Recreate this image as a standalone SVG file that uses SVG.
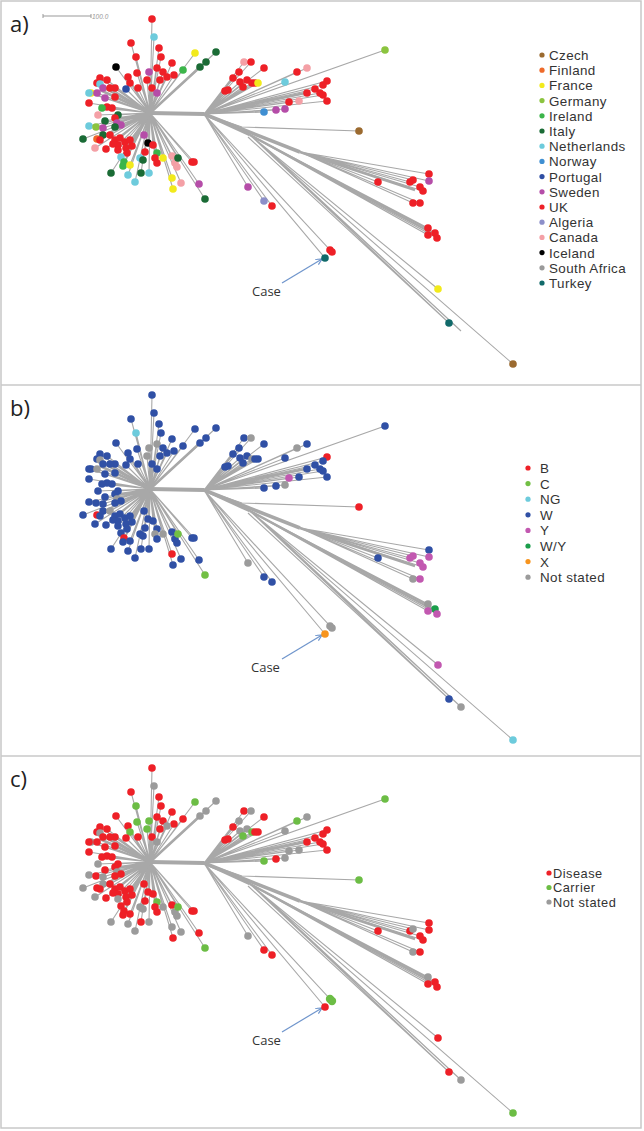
<svg xmlns="http://www.w3.org/2000/svg" xmlns:xlink="http://www.w3.org/1999/xlink" width="644" height="1131" viewBox="0 0 644 1131">
<style>
.lab{font-family:"Open Sans","Liberation Sans",sans-serif;font-size:22px;fill:#222}
.leg{font-family:"Liberation Sans",Arial,sans-serif;font-size:13.4px;letter-spacing:0.4px;fill:#333}
.legc{font-family:"Liberation Sans",Arial,sans-serif;font-size:12.8px;letter-spacing:0.5px;fill:#333}
.case{font-family:"Open Sans","Liberation Sans",sans-serif;font-size:13px;fill:#333}
.cz{fill:#9b6a2f}.fi{fill:#ee6a2a}.fr{fill:#f2ea1c}.de{fill:#8bc43f}.ie{fill:#3cb54a}.it{fill:#1a6b35}
.nl{fill:#6dcbdc}.no{fill:#3f8fd2}.pt{fill:#2e4ea3}.se{fill:#b54da8}.uk{fill:#ee2027}.dz{fill:#8c8fc9}
.ca{fill:#f4a0a6}.is{fill:#000}.za{fill:#9a9a9a}.tr{fill:#116a6a}
.bB{fill:#ee2027}.bC{fill:#72bf44}.bNG{fill:#6dcbdc}.bW{fill:#3050a5}.bY{fill:#c258b0}.bWY{fill:#1b9e4b}.bX{fill:#f7941d}
.ns{fill:#9b9b9b}.dis{fill:#ee2027}.car{fill:#6cbd45}
.arrow{stroke:#6f95cc;stroke-width:1.2;fill:none}
</style>
<defs>
<marker id="ah" markerWidth="8" markerHeight="8" refX="6" refY="3" orient="auto" markerUnits="userSpaceOnUse">
<path d="M0,0 L6,3 L0,6" fill="none" stroke="#6f95cc" stroke-width="1.2"/>
</marker>
<g id="tree" fill="none" stroke="#a8a8a8" stroke-width="1.1">
<path d="M150 113L152 19M150 113L154 37M150 113L131 43M150 113L159 48M150 113L136 57M150 113L161 57M150 113L195 53M150 113L216 52M150 113L206 62M150 113L200 67M150 113L183 70M150 113L116 67M150 113L157 68M150 113L163 72M150 113L172 63M150 113L174 75M150 113L167 77M150 113L160 80M150 113L147 80M150 113L137 73M150 113L128 77M150 113L130 83M150 113L138 88M150 113L152 88M150 113L149 72M150 113L157 93M150 113L126 89M150 113L115 88M150 113L115 97M150 113L100 78M150 113L107 80M150 113L97 83M150 113L100 84M150 113L103 88M150 113L110 88M150 113L91 93M150 113L89 93M150 113L97 93M150 113L105 98M150 113L89 103M150 113L107 107M150 113L112 108M150 113L102 108M150 113L98 115M150 113L118 115M150 113L115 118M150 113L105 121M150 113L117 123M150 113L121 125M150 113L89 126M150 113L96 127M150 113L103 128M150 113L115 127M150 113L83 139M150 113L97 139M150 113L103 135M150 113L100 140M150 113L110 135M150 113L115 140M150 113L120 138M150 113L125 142M150 113L130 140M150 113L118 145M150 113L126 148M150 113L132 146M150 113L113 144M150 113L95 148M150 113L106 149M150 113L144 135M150 113L148 143M150 113L153 145M150 113L118 150M150 113L127 153M150 113L121 157M150 113L124 162M150 113L123 166M150 113L130 165M150 113L140 158M150 113L143 160M150 113L145 152M150 113L157 153M150 113L155 158M150 113L157 163M150 113L163 158M150 113L111 173M150 113L128 175M150 113L141 173M150 113L149 173M150 113L135 182M150 113L172 156M150 113L175 163M150 113L177 167M150 113L178 158M150 113L192 162M150 113L194 162M150 113L172 178M150 113L181 183M150 113L173 189M150 113L199 184M150 113L205 199"/>
<path d="M204 114L244 62M204 114L251 62M204 114L264 68M204 114L239 72M204 114L233 78M204 114L240 82M204 114L247 80M204 114L252 83M204 114L243 87M204 114L228 90M204 114L225 91M204 114L255 83M204 114L258 83M204 114L297 72M204 114L307 68M204 114L285 82M204 114L385 50M204 114L327 81M204 114L323 85M204 114L315 89M204 114L307 93M204 114L320 93M204 114L323 95M204 114L289 102M204 114L299 101M204 114L327 101M204 114L264 112M204 114L276 110M204 114L285 109M204 114L242 127L359 131M204 114L248 187M204 114L264 201M204 114L272 206M204 114L332 252M206 116L325 258M205 115L330 250"/>
<path d="M300 152L429 174M300 152L429 181M300 152L378 182M300 152L410 182M300 152L413 180M300 152L420 187M300 152L423 191M300 152L413 203M300 152L420 203M250 135L428 228M250 135L435 233M250 135L428 235M250 135L437 238M250 135L438 289M250 135L449 323M250 135L461 331M250 135L513 364M248 137L449 323M252 136L461 331"/>
<path stroke-width="4" d="M150 113L204 114"/>
<path stroke-width="2.5" d="M150 113L200 67M150 113L130 145M150 113L100 90"/>
<path stroke-width="3.5" d="M204 114L300 152"/>
<path stroke-width="3" d="M204 114L250 135"/>
<path stroke-width="2.5" d="M300 152L415 190M250 135L432 233M204 114L310 92"/>
</g>
</defs>

<g id="frame" fill="none" stroke="#c8c8c8" stroke-width="1.5">
<rect x="1" y="1" width="640" height="1127"/>
<line x1="1" y1="385" x2="641" y2="385"/>
<line x1="1" y1="756" x2="641" y2="756"/>
</g>

<g id="connectors">
<use xlink:href="#tree" href="#tree"/>
<use xlink:href="#tree" href="#tree" transform="translate(0,376)"/>
<use xlink:href="#tree" href="#tree" transform="translate(0,749)"/>
<line class="arrow" x1="282" y1="283" x2="322" y2="259" marker-end="url(#ah)"/>
<line class="arrow" x1="282" y1="659" x2="322" y2="635" marker-end="url(#ah)"/>
<line class="arrow" x1="282" y1="1032" x2="322" y2="1008" marker-end="url(#ah)"/>
</g>

<g id="panel-a">
<text class="lab" x="10" y="32">a)</text>
<g id="scalebar" stroke="#999" stroke-width="1">
<line x1="43" y1="16" x2="91" y2="16"/><line x1="43" y1="14" x2="43" y2="18"/><line x1="91" y1="14" x2="91" y2="18"/>
</g>
<text x="92" y="18.5" font-family="Liberation Sans,sans-serif" font-size="6.5" font-style="italic" fill="#999">100.0</text>
<g id="dots-a">
<circle cx="152" cy="19" r="3.8" class="uk"/><circle cx="154" cy="37" r="3.8" class="nl"/><circle cx="131" cy="43" r="3.8" class="uk"/><circle cx="159" cy="48" r="3.8" class="uk"/><circle cx="136" cy="57" r="3.8" class="uk"/><circle cx="161" cy="57" r="3.8" class="uk"/><circle cx="195" cy="53" r="3.8" class="fr"/><circle cx="216" cy="52" r="3.8" class="it"/><circle cx="206" cy="62" r="3.8" class="it"/><circle cx="200" cy="67" r="3.8" class="it"/><circle cx="183" cy="70" r="3.8" class="ie"/><circle cx="116" cy="67" r="3.8" class="is"/><circle cx="157" cy="68" r="3.8" class="uk"/><circle cx="163" cy="72" r="3.8" class="uk"/><circle cx="172" cy="63" r="3.8" class="uk"/><circle cx="174" cy="75" r="3.8" class="uk"/><circle cx="167" cy="77" r="3.8" class="uk"/><circle cx="160" cy="80" r="3.8" class="uk"/><circle cx="147" cy="80" r="3.8" class="uk"/><circle cx="137" cy="73" r="3.8" class="uk"/><circle cx="128" cy="77" r="3.8" class="uk"/><circle cx="130" cy="83" r="3.8" class="uk"/><circle cx="138" cy="88" r="3.8" class="uk"/><circle cx="152" cy="88" r="3.8" class="uk"/><circle cx="149" cy="72" r="3.8" class="se"/><circle cx="157" cy="93" r="3.8" class="se"/><circle cx="126" cy="89" r="3.8" class="pt"/><circle cx="115" cy="88" r="3.8" class="uk"/><circle cx="115" cy="97" r="3.8" class="uk"/><circle cx="100" cy="78" r="3.8" class="uk"/><circle cx="107" cy="80" r="3.8" class="uk"/><circle cx="97" cy="83" r="3.8" class="uk"/><circle cx="100" cy="84" r="3.8" class="nl"/><circle cx="103" cy="88" r="3.8" class="se"/><circle cx="110" cy="88" r="3.8" class="uk"/><circle cx="91" cy="93" r="3.8" class="fr"/><circle cx="89" cy="93" r="3.8" class="nl"/><circle cx="97" cy="93" r="3.8" class="se"/><circle cx="105" cy="98" r="3.8" class="se"/><circle cx="89" cy="103" r="3.8" class="uk"/><circle cx="107" cy="107" r="3.8" class="uk"/><circle cx="112" cy="108" r="3.8" class="uk"/><circle cx="102" cy="108" r="3.8" class="ie"/><circle cx="98" cy="115" r="3.8" class="ca"/><circle cx="118" cy="115" r="3.8" class="it"/><circle cx="115" cy="118" r="3.8" class="uk"/><circle cx="105" cy="121" r="3.8" class="it"/><circle cx="117" cy="123" r="3.8" class="se"/><circle cx="121" cy="125" r="3.8" class="se"/><circle cx="89" cy="126" r="3.8" class="nl"/><circle cx="96" cy="127" r="3.8" class="de"/><circle cx="103" cy="128" r="3.8" class="se"/><circle cx="115" cy="127" r="3.8" class="it"/><circle cx="83" cy="139" r="3.8" class="it"/><circle cx="97" cy="139" r="3.8" class="fi"/><circle cx="103" cy="135" r="3.8" class="it"/><circle cx="100" cy="140" r="3.8" class="uk"/><circle cx="110" cy="135" r="3.8" class="uk"/><circle cx="115" cy="140" r="3.8" class="uk"/><circle cx="120" cy="138" r="3.8" class="uk"/><circle cx="125" cy="142" r="3.8" class="uk"/><circle cx="130" cy="140" r="3.8" class="uk"/><circle cx="118" cy="145" r="3.8" class="uk"/><circle cx="126" cy="148" r="3.8" class="uk"/><circle cx="132" cy="146" r="3.8" class="uk"/><circle cx="113" cy="144" r="3.8" class="uk"/><circle cx="95" cy="148" r="3.8" class="ca"/><circle cx="106" cy="149" r="3.8" class="uk"/><circle cx="144" cy="135" r="3.8" class="se"/><circle cx="148" cy="143" r="3.8" class="is"/><circle cx="153" cy="145" r="3.8" class="uk"/><circle cx="118" cy="150" r="3.8" class="uk"/><circle cx="127" cy="153" r="3.8" class="uk"/><circle cx="121" cy="157" r="3.8" class="nl"/><circle cx="124" cy="162" r="3.8" class="ie"/><circle cx="123" cy="166" r="3.8" class="ie"/><circle cx="130" cy="165" r="3.8" class="fr"/><circle cx="140" cy="158" r="3.8" class="nl"/><circle cx="143" cy="160" r="3.8" class="it"/><circle cx="145" cy="152" r="3.8" class="uk"/><circle cx="157" cy="153" r="3.8" class="ie"/><circle cx="155" cy="158" r="3.8" class="uk"/><circle cx="157" cy="163" r="3.8" class="uk"/><circle cx="163" cy="158" r="3.8" class="fr"/><circle cx="111" cy="173" r="3.8" class="it"/><circle cx="128" cy="175" r="3.8" class="nl"/><circle cx="141" cy="173" r="3.8" class="it"/><circle cx="149" cy="173" r="3.8" class="nl"/><circle cx="135" cy="182" r="3.8" class="nl"/><circle cx="172" cy="156" r="3.8" class="ca"/><circle cx="175" cy="163" r="3.8" class="ca"/><circle cx="177" cy="167" r="3.8" class="ca"/><circle cx="178" cy="158" r="3.8" class="it"/><circle cx="192" cy="162" r="3.8" class="uk"/><circle cx="194" cy="162" r="3.8" class="uk"/><circle cx="172" cy="178" r="3.8" class="fr"/><circle cx="181" cy="183" r="3.8" class="ca"/><circle cx="173" cy="189" r="3.8" class="fr"/><circle cx="199" cy="184" r="3.8" class="se"/><circle cx="205" cy="199" r="3.8" class="it"/>
<circle cx="244" cy="62" r="3.8" class="ca"/><circle cx="251" cy="62" r="3.8" class="uk"/><circle cx="264" cy="68" r="3.8" class="uk"/><circle cx="239" cy="72" r="3.8" class="uk"/><circle cx="233" cy="78" r="3.8" class="uk"/><circle cx="240" cy="82" r="3.8" class="uk"/><circle cx="247" cy="80" r="3.8" class="uk"/><circle cx="252" cy="83" r="3.8" class="uk"/><circle cx="243" cy="87" r="3.8" class="uk"/><circle cx="228" cy="90" r="3.8" class="uk"/><circle cx="225" cy="91" r="3.8" class="uk"/><circle cx="255" cy="83" r="3.8" class="uk"/><circle cx="258" cy="83" r="3.8" class="fr"/><circle cx="297" cy="72" r="3.8" class="uk"/><circle cx="307" cy="68" r="3.8" class="ca"/><circle cx="285" cy="82" r="3.8" class="nl"/><circle cx="385" cy="50" r="3.8" class="de"/><circle cx="327" cy="81" r="3.8" class="uk"/><circle cx="323" cy="85" r="3.8" class="uk"/><circle cx="315" cy="89" r="3.8" class="uk"/><circle cx="307" cy="93" r="3.8" class="uk"/><circle cx="320" cy="93" r="3.8" class="uk"/><circle cx="323" cy="95" r="3.8" class="uk"/><circle cx="289" cy="102" r="3.8" class="uk"/><circle cx="299" cy="101" r="3.8" class="ca"/><circle cx="327" cy="101" r="3.8" class="uk"/><circle cx="264" cy="112" r="3.8" class="no"/><circle cx="276" cy="110" r="3.8" class="se"/><circle cx="285" cy="109" r="3.8" class="se"/><circle cx="359" cy="131" r="3.8" class="cz"/><circle cx="429" cy="174" r="3.8" class="uk"/><circle cx="429" cy="181" r="3.8" class="se"/><circle cx="378" cy="182" r="3.8" class="uk"/><circle cx="410" cy="182" r="3.8" class="uk"/><circle cx="413" cy="180" r="3.8" class="uk"/><circle cx="420" cy="187" r="3.8" class="uk"/><circle cx="423" cy="191" r="3.8" class="uk"/><circle cx="413" cy="203" r="3.8" class="uk"/><circle cx="420" cy="203" r="3.8" class="uk"/><circle cx="248" cy="187" r="3.8" class="se"/><circle cx="264" cy="201" r="3.8" class="dz"/><circle cx="272" cy="206" r="3.8" class="uk"/><circle cx="428" cy="228" r="3.8" class="uk"/><circle cx="435" cy="233" r="3.8" class="uk"/><circle cx="428" cy="235" r="3.8" class="uk"/><circle cx="437" cy="238" r="3.8" class="uk"/><circle cx="330" cy="250" r="3.8" class="uk"/><circle cx="332" cy="252" r="3.8" class="uk"/><circle cx="325" cy="258" r="3.8" class="tr"/><circle cx="438" cy="289" r="3.8" class="fr"/><circle cx="449" cy="323" r="3.8" class="tr"/><circle cx="513" cy="364" r="3.8" class="cz"/>
</g>
<text class="case" x="252" y="296">Case</text>
<g id="legend-a">
<circle cx="542" cy="55" r="2.6" class="cz"/><text class="leg" x="549" y="60">Czech</text>
<circle cx="542" cy="70.2" r="2.6" class="fi"/><text class="leg" x="549" y="75.2">Finland</text>
<circle cx="542" cy="85.4" r="2.6" class="fr"/><text class="leg" x="549" y="90.4">France</text>
<circle cx="542" cy="100.6" r="2.6" class="de"/><text class="leg" x="549" y="105.6">Germany</text>
<circle cx="542" cy="115.8" r="2.6" class="ie"/><text class="leg" x="549" y="120.8">Ireland</text>
<circle cx="542" cy="131" r="2.6" class="it"/><text class="leg" x="549" y="136">Italy</text>
<circle cx="542" cy="146.2" r="2.6" class="nl"/><text class="leg" x="549" y="151.2">Netherlands</text>
<circle cx="542" cy="161.4" r="2.6" class="no"/><text class="leg" x="549" y="166.4">Norway</text>
<circle cx="542" cy="176.6" r="2.6" class="pt"/><text class="leg" x="549" y="181.6">Portugal</text>
<circle cx="542" cy="191.8" r="2.6" class="se"/><text class="leg" x="549" y="196.8">Sweden</text>
<circle cx="542" cy="207" r="2.6" class="uk"/><text class="leg" x="549" y="212">UK</text>
<circle cx="542" cy="222.2" r="2.6" class="dz"/><text class="leg" x="549" y="227.2">Algeria</text>
<circle cx="542" cy="237.4" r="2.6" class="ca"/><text class="leg" x="549" y="242.4">Canada</text>
<circle cx="542" cy="252.6" r="2.6" class="is"/><text class="leg" x="549" y="257.6">Iceland</text>
<circle cx="542" cy="267.8" r="2.6" class="za"/><text class="leg" x="549" y="272.8">South Africa</text>
<circle cx="542" cy="283" r="2.6" class="tr"/><text class="leg" x="549" y="288">Turkey</text>
</g>
</g>

<g id="panel-b">
<text class="lab" x="10" y="416">b)</text>
<g id="dots-b" transform="translate(0,376)">
<circle cx="152" cy="19" r="3.8" class="bW"/><circle cx="154" cy="37" r="3.8" class="bW"/><circle cx="131" cy="43" r="3.8" class="bW"/><circle cx="159" cy="48" r="3.8" class="bW"/><circle cx="136" cy="57" r="3.8" class="bNG"/><circle cx="161" cy="57" r="3.8" class="bW"/><circle cx="195" cy="53" r="3.8" class="bW"/><circle cx="216" cy="52" r="3.8" class="bW"/><circle cx="206" cy="62" r="3.8" class="bW"/><circle cx="200" cy="67" r="3.8" class="bW"/><circle cx="183" cy="70" r="3.8" class="bW"/><circle cx="116" cy="67" r="3.8" class="bW"/><circle cx="157" cy="68" r="3.8" class="ns"/><circle cx="163" cy="72" r="3.8" class="bW"/><circle cx="172" cy="63" r="3.8" class="bW"/><circle cx="174" cy="75" r="3.8" class="bW"/><circle cx="167" cy="77" r="3.8" class="bW"/><circle cx="160" cy="80" r="3.8" class="bW"/><circle cx="147" cy="80" r="3.8" class="ns"/><circle cx="137" cy="73" r="3.8" class="bW"/><circle cx="128" cy="77" r="3.8" class="bW"/><circle cx="130" cy="83" r="3.8" class="bW"/><circle cx="138" cy="88" r="3.8" class="bW"/><circle cx="152" cy="88" r="3.8" class="bW"/><circle cx="149" cy="72" r="3.8" class="ns"/><circle cx="157" cy="93" r="3.8" class="bW"/><circle cx="126" cy="89" r="3.8" class="bW"/><circle cx="115" cy="88" r="3.8" class="bW"/><circle cx="115" cy="97" r="3.8" class="bW"/><circle cx="100" cy="78" r="3.8" class="bW"/><circle cx="107" cy="80" r="3.8" class="bW"/><circle cx="97" cy="83" r="3.8" class="bW"/><circle cx="100" cy="84" r="3.8" class="ns"/><circle cx="103" cy="88" r="3.8" class="bW"/><circle cx="110" cy="88" r="3.8" class="bW"/><circle cx="91" cy="93" r="3.8" class="bW"/><circle cx="89" cy="93" r="3.8" class="bW"/><circle cx="97" cy="93" r="3.8" class="ns"/><circle cx="105" cy="98" r="3.8" class="bW"/><circle cx="89" cy="103" r="3.8" class="bW"/><circle cx="107" cy="107" r="3.8" class="bW"/><circle cx="112" cy="108" r="3.8" class="bW"/><circle cx="102" cy="108" r="3.8" class="bW"/><circle cx="98" cy="115" r="3.8" class="bW"/><circle cx="118" cy="115" r="3.8" class="bW"/><circle cx="115" cy="118" r="3.8" class="bW"/><circle cx="105" cy="121" r="3.8" class="bW"/><circle cx="117" cy="123" r="3.8" class="ns"/><circle cx="121" cy="125" r="3.8" class="bW"/><circle cx="89" cy="126" r="3.8" class="bW"/><circle cx="96" cy="127" r="3.8" class="bW"/><circle cx="103" cy="128" r="3.8" class="bW"/><circle cx="115" cy="127" r="3.8" class="bW"/><circle cx="83" cy="139" r="3.8" class="bW"/><circle cx="97" cy="139" r="3.8" class="bB"/><circle cx="103" cy="135" r="3.8" class="bW"/><circle cx="100" cy="140" r="3.8" class="bW"/><circle cx="110" cy="135" r="3.8" class="ns"/><circle cx="115" cy="140" r="3.8" class="bW"/><circle cx="120" cy="138" r="3.8" class="bW"/><circle cx="125" cy="142" r="3.8" class="bW"/><circle cx="130" cy="140" r="3.8" class="bW"/><circle cx="118" cy="145" r="3.8" class="bW"/><circle cx="126" cy="148" r="3.8" class="bW"/><circle cx="132" cy="146" r="3.8" class="bW"/><circle cx="113" cy="144" r="3.8" class="bW"/><circle cx="95" cy="148" r="3.8" class="bW"/><circle cx="106" cy="149" r="3.8" class="bW"/><circle cx="144" cy="135" r="3.8" class="bW"/><circle cx="148" cy="143" r="3.8" class="bW"/><circle cx="153" cy="145" r="3.8" class="bW"/><circle cx="118" cy="150" r="3.8" class="bW"/><circle cx="127" cy="153" r="3.8" class="bW"/><circle cx="121" cy="157" r="3.8" class="bW"/><circle cx="124" cy="162" r="3.8" class="bB"/><circle cx="123" cy="166" r="3.8" class="bW"/><circle cx="130" cy="165" r="3.8" class="bW"/><circle cx="140" cy="158" r="3.8" class="bW"/><circle cx="143" cy="160" r="3.8" class="bW"/><circle cx="145" cy="152" r="3.8" class="bW"/><circle cx="157" cy="153" r="3.8" class="bW"/><circle cx="155" cy="158" r="3.8" class="ns"/><circle cx="157" cy="163" r="3.8" class="bW"/><circle cx="163" cy="158" r="3.8" class="ns"/><circle cx="111" cy="173" r="3.8" class="bW"/><circle cx="128" cy="175" r="3.8" class="bW"/><circle cx="141" cy="173" r="3.8" class="bW"/><circle cx="149" cy="173" r="3.8" class="bW"/><circle cx="135" cy="182" r="3.8" class="bW"/><circle cx="172" cy="156" r="3.8" class="bW"/><circle cx="175" cy="163" r="3.8" class="bW"/><circle cx="177" cy="167" r="3.8" class="bW"/><circle cx="178" cy="158" r="3.8" class="bC"/><circle cx="192" cy="162" r="3.8" class="bW"/><circle cx="194" cy="162" r="3.8" class="bW"/><circle cx="172" cy="178" r="3.8" class="bB"/><circle cx="181" cy="183" r="3.8" class="bW"/><circle cx="173" cy="189" r="3.8" class="bW"/><circle cx="199" cy="184" r="3.8" class="bW"/><circle cx="205" cy="199" r="3.8" class="bC"/>
<circle cx="244" cy="62" r="3.8" class="bW"/><circle cx="251" cy="62" r="3.8" class="ns"/><circle cx="264" cy="68" r="3.8" class="bW"/><circle cx="239" cy="72" r="3.8" class="bW"/><circle cx="233" cy="78" r="3.8" class="bW"/><circle cx="240" cy="82" r="3.8" class="bW"/><circle cx="247" cy="80" r="3.8" class="bW"/><circle cx="252" cy="83" r="3.8" class="ns"/><circle cx="243" cy="87" r="3.8" class="bW"/><circle cx="228" cy="90" r="3.8" class="bW"/><circle cx="225" cy="91" r="3.8" class="bW"/><circle cx="255" cy="83" r="3.8" class="bW"/><circle cx="258" cy="83" r="3.8" class="bW"/><circle cx="297" cy="72" r="3.8" class="ns"/><circle cx="307" cy="68" r="3.8" class="bW"/><circle cx="285" cy="82" r="3.8" class="bW"/><circle cx="385" cy="50" r="3.8" class="bW"/><circle cx="327" cy="81" r="3.8" class="bB"/><circle cx="323" cy="85" r="3.8" class="bW"/><circle cx="315" cy="89" r="3.8" class="bW"/><circle cx="307" cy="93" r="3.8" class="bW"/><circle cx="320" cy="93" r="3.8" class="bW"/><circle cx="323" cy="95" r="3.8" class="bW"/><circle cx="289" cy="102" r="3.8" class="bY"/><circle cx="299" cy="101" r="3.8" class="bW"/><circle cx="327" cy="101" r="3.8" class="bW"/><circle cx="264" cy="112" r="3.8" class="bW"/><circle cx="276" cy="110" r="3.8" class="bW"/><circle cx="285" cy="109" r="3.8" class="ns"/><circle cx="359" cy="131" r="3.8" class="bB"/><circle cx="429" cy="174" r="3.8" class="bW"/><circle cx="429" cy="181" r="3.8" class="bY"/><circle cx="378" cy="182" r="3.8" class="bW"/><circle cx="410" cy="182" r="3.8" class="bY"/><circle cx="413" cy="180" r="3.8" class="bY"/><circle cx="420" cy="187" r="3.8" class="bY"/><circle cx="423" cy="191" r="3.8" class="bY"/><circle cx="413" cy="203" r="3.8" class="ns"/><circle cx="420" cy="203" r="3.8" class="bY"/><circle cx="248" cy="187" r="3.8" class="ns"/><circle cx="264" cy="201" r="3.8" class="bW"/><circle cx="272" cy="206" r="3.8" class="bW"/><circle cx="428" cy="228" r="3.8" class="ns"/><circle cx="435" cy="233" r="3.8" class="bWY"/><circle cx="428" cy="235" r="3.8" class="bY"/><circle cx="437" cy="238" r="3.8" class="bY"/><circle cx="330" cy="250" r="3.8" class="ns"/><circle cx="332" cy="252" r="3.8" class="ns"/><circle cx="325" cy="258" r="3.8" class="bX"/><circle cx="438" cy="289" r="3.8" class="bY"/><circle cx="449" cy="323" r="3.8" class="bW"/><circle cx="461" cy="331" r="3.8" class="ns"/><circle cx="513" cy="364" r="3.8" class="bNG"/>
</g>
<text class="case" x="251" y="672">Case</text>
<g id="legend-b">
<circle cx="528" cy="468" r="2.6" class="bB"/><text class="leg" x="540" y="473">B</text>
<circle cx="528" cy="483.6" r="2.6" class="bC"/><text class="leg" x="540" y="488.6">C</text>
<circle cx="528" cy="499.2" r="2.6" class="bNG"/><text class="leg" x="540" y="504.2">NG</text>
<circle cx="528" cy="514.8" r="2.6" class="bW"/><text class="leg" x="540" y="519.8">W</text>
<circle cx="528" cy="530.4" r="2.6" class="bY"/><text class="leg" x="540" y="535.4">Y</text>
<circle cx="528" cy="546" r="2.6" class="bWY"/><text class="leg" x="540" y="551">W/Y</text>
<circle cx="528" cy="561.6" r="2.6" class="bX"/><text class="leg" x="540" y="566.6">X</text>
<circle cx="528" cy="577.2" r="2.6" class="ns"/><text class="leg" x="540" y="582.2">Not stated</text>
</g>
</g>

<g id="panel-c">
<text class="lab" x="10" y="787">c)</text>
<g id="dots-c" transform="translate(0,749)">
<circle cx="152" cy="19" r="3.8" class="dis"/><circle cx="154" cy="37" r="3.8" class="ns"/><circle cx="131" cy="43" r="3.8" class="dis"/><circle cx="159" cy="48" r="3.8" class="dis"/><circle cx="136" cy="57" r="3.8" class="car"/><circle cx="161" cy="57" r="3.8" class="dis"/><circle cx="195" cy="53" r="3.8" class="car"/><circle cx="216" cy="52" r="3.8" class="ns"/><circle cx="206" cy="62" r="3.8" class="ns"/><circle cx="200" cy="67" r="3.8" class="ns"/><circle cx="183" cy="70" r="3.8" class="dis"/><circle cx="116" cy="67" r="3.8" class="dis"/><circle cx="157" cy="68" r="3.8" class="dis"/><circle cx="163" cy="72" r="3.8" class="dis"/><circle cx="172" cy="63" r="3.8" class="dis"/><circle cx="174" cy="75" r="3.8" class="dis"/><circle cx="167" cy="77" r="3.8" class="ns"/><circle cx="160" cy="80" r="3.8" class="dis"/><circle cx="147" cy="80" r="3.8" class="car"/><circle cx="137" cy="73" r="3.8" class="car"/><circle cx="128" cy="77" r="3.8" class="dis"/><circle cx="130" cy="83" r="3.8" class="car"/><circle cx="138" cy="88" r="3.8" class="dis"/><circle cx="152" cy="88" r="3.8" class="dis"/><circle cx="149" cy="72" r="3.8" class="car"/><circle cx="157" cy="93" r="3.8" class="ns"/><circle cx="126" cy="89" r="3.8" class="dis"/><circle cx="115" cy="88" r="3.8" class="dis"/><circle cx="115" cy="97" r="3.8" class="dis"/><circle cx="100" cy="78" r="3.8" class="dis"/><circle cx="107" cy="80" r="3.8" class="dis"/><circle cx="97" cy="83" r="3.8" class="dis"/><circle cx="100" cy="84" r="3.8" class="ns"/><circle cx="103" cy="88" r="3.8" class="dis"/><circle cx="110" cy="88" r="3.8" class="dis"/><circle cx="91" cy="93" r="3.8" class="ns"/><circle cx="89" cy="93" r="3.8" class="dis"/><circle cx="97" cy="93" r="3.8" class="dis"/><circle cx="105" cy="98" r="3.8" class="dis"/><circle cx="89" cy="103" r="3.8" class="dis"/><circle cx="107" cy="107" r="3.8" class="dis"/><circle cx="112" cy="108" r="3.8" class="dis"/><circle cx="102" cy="108" r="3.8" class="dis"/><circle cx="98" cy="115" r="3.8" class="ns"/><circle cx="118" cy="115" r="3.8" class="dis"/><circle cx="115" cy="118" r="3.8" class="dis"/><circle cx="105" cy="121" r="3.8" class="dis"/><circle cx="117" cy="123" r="3.8" class="ns"/><circle cx="121" cy="125" r="3.8" class="dis"/><circle cx="89" cy="126" r="3.8" class="ns"/><circle cx="96" cy="127" r="3.8" class="dis"/><circle cx="103" cy="128" r="3.8" class="ns"/><circle cx="115" cy="127" r="3.8" class="dis"/><circle cx="83" cy="139" r="3.8" class="ns"/><circle cx="97" cy="139" r="3.8" class="dis"/><circle cx="103" cy="135" r="3.8" class="ns"/><circle cx="100" cy="140" r="3.8" class="dis"/><circle cx="110" cy="135" r="3.8" class="dis"/><circle cx="115" cy="140" r="3.8" class="dis"/><circle cx="120" cy="138" r="3.8" class="dis"/><circle cx="125" cy="142" r="3.8" class="dis"/><circle cx="130" cy="140" r="3.8" class="dis"/><circle cx="118" cy="145" r="3.8" class="dis"/><circle cx="126" cy="148" r="3.8" class="dis"/><circle cx="132" cy="146" r="3.8" class="dis"/><circle cx="113" cy="144" r="3.8" class="dis"/><circle cx="95" cy="148" r="3.8" class="ns"/><circle cx="106" cy="149" r="3.8" class="dis"/><circle cx="144" cy="135" r="3.8" class="dis"/><circle cx="148" cy="143" r="3.8" class="dis"/><circle cx="153" cy="145" r="3.8" class="dis"/><circle cx="118" cy="150" r="3.8" class="ns"/><circle cx="127" cy="153" r="3.8" class="dis"/><circle cx="121" cy="157" r="3.8" class="dis"/><circle cx="124" cy="162" r="3.8" class="dis"/><circle cx="123" cy="166" r="3.8" class="dis"/><circle cx="130" cy="165" r="3.8" class="dis"/><circle cx="140" cy="158" r="3.8" class="ns"/><circle cx="143" cy="160" r="3.8" class="ns"/><circle cx="145" cy="152" r="3.8" class="dis"/><circle cx="157" cy="153" r="3.8" class="car"/><circle cx="155" cy="158" r="3.8" class="dis"/><circle cx="157" cy="163" r="3.8" class="dis"/><circle cx="163" cy="158" r="3.8" class="ns"/><circle cx="111" cy="173" r="3.8" class="ns"/><circle cx="128" cy="175" r="3.8" class="ns"/><circle cx="141" cy="173" r="3.8" class="dis"/><circle cx="149" cy="173" r="3.8" class="ns"/><circle cx="135" cy="182" r="3.8" class="ns"/><circle cx="172" cy="156" r="3.8" class="dis"/><circle cx="175" cy="163" r="3.8" class="ns"/><circle cx="177" cy="167" r="3.8" class="ns"/><circle cx="178" cy="158" r="3.8" class="car"/><circle cx="192" cy="162" r="3.8" class="dis"/><circle cx="194" cy="162" r="3.8" class="dis"/><circle cx="172" cy="178" r="3.8" class="ns"/><circle cx="181" cy="183" r="3.8" class="ns"/><circle cx="173" cy="189" r="3.8" class="dis"/><circle cx="199" cy="184" r="3.8" class="dis"/><circle cx="205" cy="199" r="3.8" class="car"/>
<circle cx="244" cy="62" r="3.8" class="dis"/><circle cx="251" cy="62" r="3.8" class="ns"/><circle cx="264" cy="68" r="3.8" class="dis"/><circle cx="239" cy="72" r="3.8" class="ns"/><circle cx="233" cy="78" r="3.8" class="dis"/><circle cx="240" cy="82" r="3.8" class="ns"/><circle cx="247" cy="80" r="3.8" class="ns"/><circle cx="252" cy="83" r="3.8" class="car"/><circle cx="243" cy="87" r="3.8" class="car"/><circle cx="228" cy="90" r="3.8" class="dis"/><circle cx="225" cy="91" r="3.8" class="dis"/><circle cx="255" cy="83" r="3.8" class="dis"/><circle cx="258" cy="83" r="3.8" class="dis"/><circle cx="297" cy="72" r="3.8" class="car"/><circle cx="307" cy="68" r="3.8" class="ns"/><circle cx="285" cy="82" r="3.8" class="ns"/><circle cx="385" cy="50" r="3.8" class="car"/><circle cx="327" cy="81" r="3.8" class="dis"/><circle cx="323" cy="85" r="3.8" class="dis"/><circle cx="315" cy="89" r="3.8" class="dis"/><circle cx="307" cy="93" r="3.8" class="dis"/><circle cx="320" cy="93" r="3.8" class="dis"/><circle cx="323" cy="95" r="3.8" class="dis"/><circle cx="289" cy="102" r="3.8" class="ns"/><circle cx="299" cy="101" r="3.8" class="ns"/><circle cx="327" cy="101" r="3.8" class="dis"/><circle cx="264" cy="112" r="3.8" class="car"/><circle cx="276" cy="110" r="3.8" class="dis"/><circle cx="285" cy="109" r="3.8" class="ns"/><circle cx="359" cy="131" r="3.8" class="car"/><circle cx="429" cy="174" r="3.8" class="dis"/><circle cx="429" cy="181" r="3.8" class="dis"/><circle cx="378" cy="182" r="3.8" class="dis"/><circle cx="410" cy="182" r="3.8" class="dis"/><circle cx="413" cy="180" r="3.8" class="ns"/><circle cx="420" cy="187" r="3.8" class="dis"/><circle cx="423" cy="191" r="3.8" class="dis"/><circle cx="413" cy="203" r="3.8" class="ns"/><circle cx="420" cy="203" r="3.8" class="dis"/><circle cx="248" cy="187" r="3.8" class="ns"/><circle cx="264" cy="201" r="3.8" class="dis"/><circle cx="272" cy="206" r="3.8" class="dis"/><circle cx="428" cy="228" r="3.8" class="ns"/><circle cx="435" cy="233" r="3.8" class="dis"/><circle cx="428" cy="235" r="3.8" class="dis"/><circle cx="437" cy="238" r="3.8" class="dis"/><circle cx="330" cy="250" r="4.2" class="car"/><circle cx="332" cy="252" r="4.2" class="car"/><circle cx="325" cy="258" r="3.8" class="dis"/><circle cx="438" cy="289" r="3.8" class="dis"/><circle cx="449" cy="323" r="3.8" class="dis"/><circle cx="461" cy="331" r="3.8" class="ns"/><circle cx="513" cy="364" r="3.8" class="car"/>
</g>
<text class="case" x="252" y="1045">Case</text>
<g id="legend-c">
<circle cx="549" cy="873" r="2.6" class="dis"/><text class="legc" x="553" y="877.5">Disease</text>
<circle cx="549" cy="887.5" r="2.6" class="car"/><text class="legc" x="553" y="892">Carrier</text>
<circle cx="549" cy="902" r="2.6" class="ns"/><text class="legc" x="553" y="906.5">Not stated</text>
</g>
</g>
</svg>
